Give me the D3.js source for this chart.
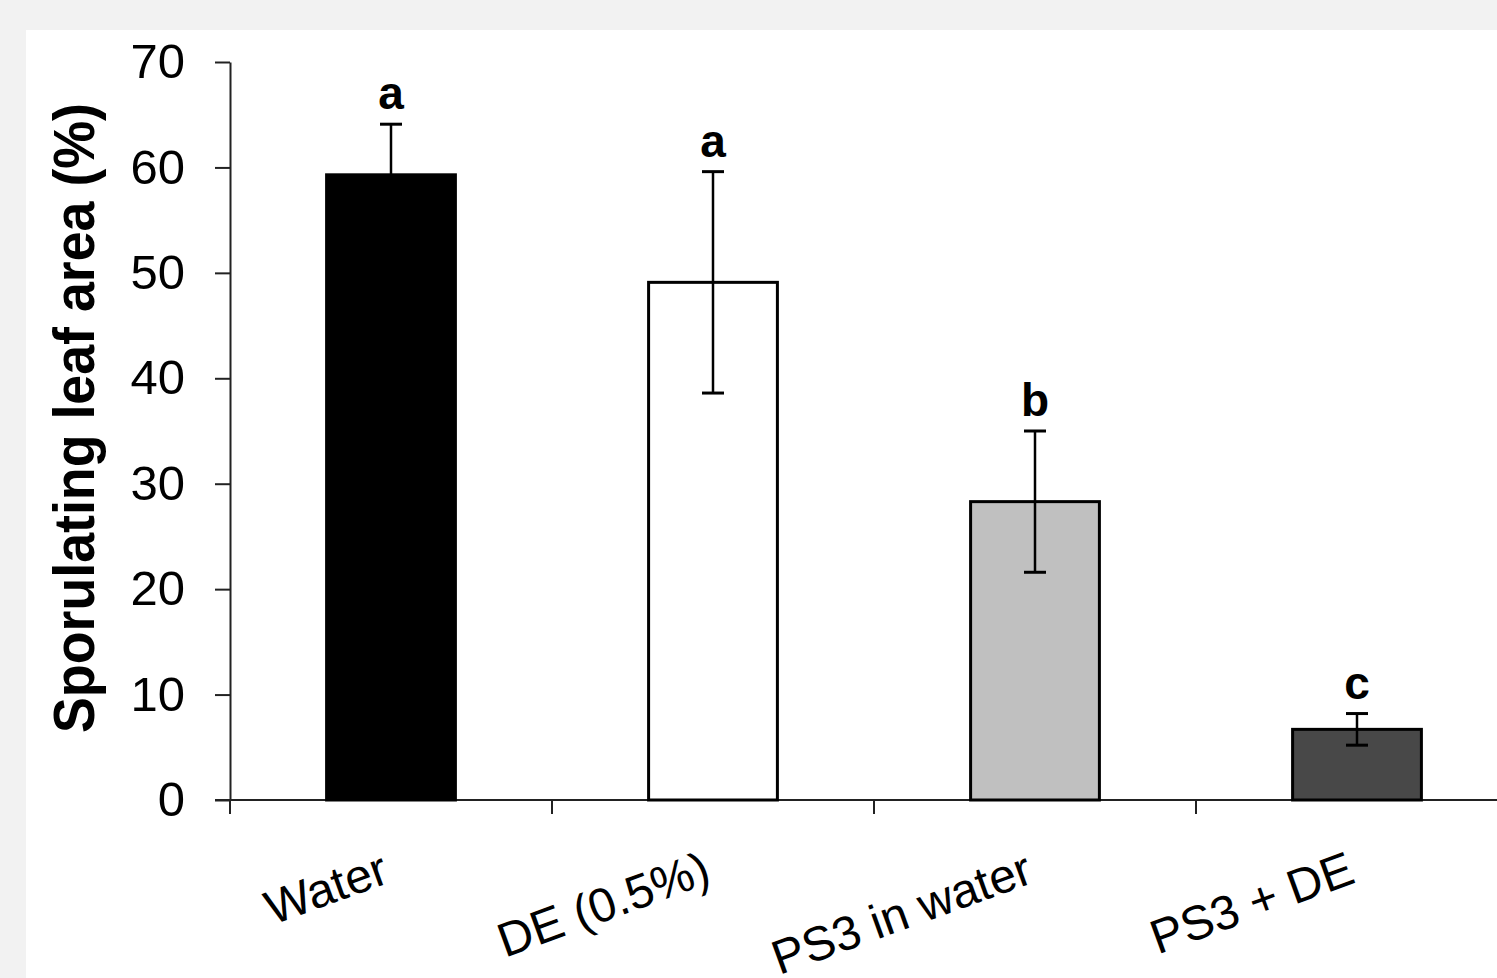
<!DOCTYPE html>
<html>
<head>
    <script src="https://cdn.jsdelivr.net/npm/d3@7"></script>
    <style>
        body { margin: 0; background: #f2f2f2; }
        text { font-family: "Liberation Sans", Arial, sans-serif; fill: #000; }
    </style>
</head>
<body>
    <div id="viz"></div>

    <script type="text/javascript">

    // data
    var categories = ["Water", "DE (0.5%)", "PS3 in water", "PS3 + DE"];
    var means = [59.3, 49.1, 28.3, 6.7];
    var errors = [4.8, 10.5, 6.7, 1.5];
    var letters = ["a", "a", "b", "c"];
    var barColors = ["#000000", "#ffffff", "#c0c0c0", "#484848"];
    var yTicks = [0, 10, 20, 30, 40, 50, 60, 70];

    var W = 1497, H = 978;

    var svg = d3.select("#viz")
        .append("svg")
        .attr("width", W)
        .attr("height", H);

    // grey page with white panel
    svg.append("rect").attr("width", W).attr("height", H).style("fill", "#f2f2f2");
    svg.append("rect").attr("x", 26).attr("y", 30).attr("width", W - 26).attr("height", H - 30).style("fill", "#fff");

    var y = d3.scaleLinear().domain([0, 70]).range([800, 62]);
    var x = d3.scaleBand().domain(categories).range([230, 1518]).padding(0);
    var barW = x.bandwidth() * 0.4;

    // y axis
    var yAxis = svg.append("g")
        .attr("transform", "translate(230,0)")
        .call(d3.axisLeft(y).tickValues(yTicks).tickSize(15).tickSizeOuter(0).tickPadding(30));
    yAxis.select(".domain").attr("stroke", "#222").attr("stroke-width", 2);
    yAxis.selectAll(".tick line").attr("stroke", "#222").attr("stroke-width", 2);
    yAxis.selectAll(".tick text")
        .style("font-size", "49px")
        .style("font-family", "'Liberation Sans', Arial, sans-serif")
        .attr("fill", "#000");

    // y title
    svg.append("text")
        .attr("transform", "translate(94,418) rotate(-90)")
        .attr("text-anchor", "middle")
        .attr("textLength", 630)
        .attr("lengthAdjust", "spacingAndGlyphs")
        .style("font-size", "58px")
        .style("font-weight", "bold")
        .text("Sporulating leaf area (%)");

    // x axis line and ticks at band boundaries
    svg.append("line")
        .attr("x1", 215).attr("x2", W)
        .attr("y1", y(0)).attr("y2", y(0))
        .attr("stroke", "#222").attr("stroke-width", 2);

    var bounds = categories.map(function(c){ return x(c); }).concat([x.range()[1]]);
    svg.selectAll(".xtick")
        .data(bounds)
        .enter().append("line")
        .attr("class", "xtick")
        .attr("x1", function(d){ return d; }).attr("x2", function(d){ return d; })
        .attr("y1", y(0)).attr("y2", y(0) + 14)
        .attr("stroke", "#222").attr("stroke-width", 2);

    // x labels, rotated
    svg.selectAll(".xlab")
        .data(categories)
        .enter().append("text")
        .attr("class", "xlab")
        .attr("transform", function(d){ return "translate(" + (x(d) + x.bandwidth() / 2) + ",882) rotate(-20)"; })
        .attr("text-anchor", "end")
        .style("font-size", "48px")
        .text(function(d){ return d; });

    // bars
    svg.selectAll(".bar")
        .data(categories)
        .enter().append("rect")
        .attr("class", "bar")
        .attr("x", function(d){ return x(d) + x.bandwidth() / 2 - barW / 2; })
        .attr("y", function(d, i){ return y(means[i]); })
        .attr("width", barW)
        .attr("height", function(d, i){ return y(0) - y(means[i]); })
        .style("fill", function(d, i){ return barColors[i]; })
        .style("stroke", "#000")
        .style("stroke-width", 3);

    // error bars
    var eb = svg.selectAll(".err")
        .data(categories)
        .enter().append("g")
        .attr("class", "err")
        .attr("transform", function(d){ return "translate(" + (x(d) + x.bandwidth() / 2) + ",0)"; });

    eb.append("line")
        .attr("y1", function(d, i){ return y(means[i] + errors[i]); })
        .attr("y2", function(d, i){ return y(means[i] - errors[i]); })
        .attr("stroke", "#000").attr("stroke-width", 2.5);
    eb.append("line")
        .attr("x1", -11).attr("x2", 11)
        .attr("y1", function(d, i){ return y(means[i] + errors[i]); })
        .attr("y2", function(d, i){ return y(means[i] + errors[i]); })
        .attr("stroke", "#000").attr("stroke-width", 3);
    eb.append("line")
        .attr("x1", -11).attr("x2", 11)
        .attr("y1", function(d, i){ return y(means[i] - errors[i]); })
        .attr("y2", function(d, i){ return y(means[i] - errors[i]); })
        .attr("stroke", function(d, i){ return i == 0 ? "#000" : "#000"; }).attr("stroke-width", 3);

    // significance letters
    eb.append("text")
        .attr("y", function(d, i){ return y(means[i] + errors[i]) - 15; })
        .attr("text-anchor", "middle")
        .style("font-size", "46px")
        .style("font-weight", "bold")
        .text(function(d, i){ return letters[i]; });

    </script>
</body>
</html>
